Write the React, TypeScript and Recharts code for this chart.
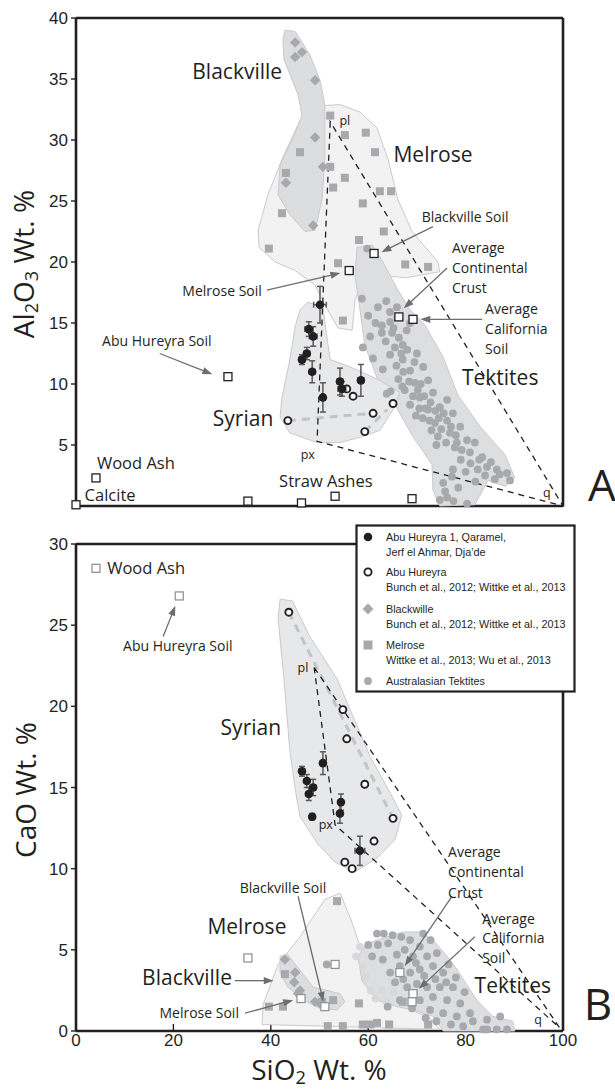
import React from 'react';
import { ScatterChart, Scatter, XAxis, YAxis } from 'recharts';

type Pt = [number, number];
type Note = { x: number; y: number; text: string };

// ---------- panel A : Al2O3 vs SiO2 ----------
const A_MELROSE_FIELD: Pt[] = [
  [50.1, 32.8], [54.2, 32.9], [58.3, 32.3], [61.8, 31.0], [64.1, 28.4], [66.1, 25.1], [69.0, 22.5],
  [74.3, 20.0], [74.7, 19.2], [67.6, 18.7], [63.4, 18.9], [58.7, 18.4], [57.3, 16.9], [56.7, 14.4],
  [53.8, 14.6], [51.1, 16.5], [49.1, 18.1], [45.0, 19.3], [40.9, 20.0], [37.6, 21.2], [37.4, 22.6],
  [39.4, 25.5], [42.5, 28.6], [46.0, 31.6], [48.5, 32.6],
];
const A_BLACKVILLE_FIELD: Pt[] = [
  [42.9, 39.0], [45.0, 38.9], [48.0, 37.0], [50.1, 34.9], [51.1, 32.9], [51.1, 28.4], [50.5, 25.1],
  [49.1, 22.6], [47.0, 22.5], [43.9, 23.9], [41.5, 25.5], [41.9, 28.0], [44.4, 30.0], [46.4, 32.0],
  [45.6, 33.7], [42.7, 36.6], [42.5, 38.2],
];
const A_SYRIAN_FIELD: Pt[] = [
  [47.6, 16.7], [50.7, 16.3], [51.5, 13.9], [52.2, 12.0], [56.3, 11.4], [62.4, 10.3], [66.5, 9.3],
  [65.1, 7.9], [62.4, 6.2], [58.9, 5.7], [54.2, 5.2], [49.5, 5.2], [43.9, 6.0], [41.9, 7.3],
  [42.3, 8.9], [43.9, 12.0], [45.0, 14.7], [46.0, 16.1],
];
const A_TEKTITE_FIELD: Pt[] = [
  [57.7, 21.2], [60.8, 21.4], [63.0, 20.0], [66.1, 17.7], [68.6, 16.1], [71.7, 14.8], [75.4, 12.2],
  [78.4, 9.1], [83.0, 6.5], [88.1, 4.2], [90.1, 2.3], [88.1, 1.6], [84.6, 2.1], [81.9, 0.1],
  [74.7, 0], [73.3, 1.3], [73.1, 3.4], [69.0, 5.8], [65.5, 8.3], [62.0, 10.3], [59.3, 13.2],
  [58.3, 16.1], [57.3, 18.9],
];
const A_TRIANGLE: Pt[] = [[52.2, 31.5], [49.5, 5.3], [100, 0]];
const A_TIE_1: Pt[] = [[43.5, 7.0], [61.0, 7.6]];
const A_TIE_2: Pt[] = [[59.3, 6.1], [63.9, 7.9]];

const A_TEKTITES: Pt[] = [
  [58.7, 17.0], [63.7, 16.8], [65.9, 16.3], [64.5, 15.9], [62.8, 14.8], [64.5, 15.1], [60.4, 13.9],
  [62.8, 14.2], [64.9, 14.2], [58.9, 13.0], [61.0, 12.1], [64.5, 12.4], [67.1, 13.2], [67.9, 14.4],
  [68.6, 15.0], [67.1, 12.0], [70.0, 12.5], [68.6, 11.1], [71.3, 11.4], [69.6, 10.1], [72.3, 10.3],
  [70.6, 8.9], [73.3, 9.3], [64.6, 9.4], [63.8, 9.2], [72.3, 7.9], [74.7, 8.1], [76.2, 8.7],
  [73.7, 6.8], [76.2, 7.0], [77.4, 7.6], [74.3, 5.7], [76.8, 6.0], [78.9, 6.5], [78.2, 5.2],
  [80.3, 5.4], [81.9, 5.2], [80.9, 4.4], [83.4, 4.0], [84.4, 3.2], [86.4, 3.0], [88.5, 2.7],
  [89.1, 2.1], [77.4, 3.0], [75.4, 1.9], [76.2, 0.7], [80.3, 0.2], [74.7, 0.5], [77.2, 2.4],
  [66.0, 15.5], [65.2, 14.6], [66.3, 13.8], [63.6, 13.5], [65.5, 13.0], [66.8, 12.5], [68.0, 12.8],
  [63.0, 11.2], [65.8, 11.5], [67.2, 11.0], [66.2, 10.4], [68.4, 10.2], [70.8, 10.0], [67.5, 9.5],
  [69.2, 9.0], [71.5, 9.0], [68.6, 8.3], [70.5, 8.0], [72.8, 8.5], [71.2, 7.2], [72.6, 7.0],
  [74.5, 7.2], [73.0, 6.2], [75.0, 6.3], [77.0, 6.5], [76.0, 5.2], [77.8, 4.8], [79.2, 4.6],
  [79.0, 3.8], [81.0, 3.5], [82.5, 3.0], [80.0, 2.8], [84.0, 2.5], [86.0, 2.2], [82.0, 2.0],
  [78.5, 1.5], [75.8, 1.2], [77.5, 0.4], [61.5, 15.0], [60.0, 15.6], [62.0, 16.3], [59.8, 21.1],
  [69.5, 11.8], [70.2, 9.5], [73.8, 7.8], [75.5, 7.6], [74.0, 5.0], [78.0, 5.8], [82.8, 3.8],
  [85.2, 3.6], [87.0, 2.6], [67.0, 9.8], [71.8, 8.0], [69.8, 7.4],
];
const A_MELROSE: Pt[] = [
  [46.0, 29.0], [43.1, 27.3], [42.3, 24.0], [39.6, 21.1], [52.2, 32.0], [55.2, 30.4], [59.5, 30.6],
  [61.4, 29.0], [52.2, 27.8], [55.2, 26.9], [52.8, 26.1], [62.4, 25.8], [64.7, 25.8], [58.9, 24.8],
  [63.2, 22.5], [58.1, 21.8], [53.8, 19.9], [67.6, 19.8], [72.3, 19.6], [54.8, 15.2],
];
const A_BLACKVILLE: Pt[] = [
  [45.0, 38.0], [46.4, 37.2], [45.0, 36.8], [49.1, 34.9], [49.1, 30.2], [50.7, 27.8], [48.7, 23.0], [43.1, 26.5],
];
const A_ABU_HUREYRA: Pt[] = [[43.5, 7.0], [61.0, 7.6], [59.3, 6.1], [65.1, 8.4], [55.6, 9.6], [56.9, 9.0]];
// x, y, x error, y error
const A_SITES: [number, number, number, number][] = [
  [50.1, 16.5, 1.3, 1.5], [47.8, 14.5, 0.8, 0.6], [48.7, 13.9, 0.8, 0.8], [47.4, 12.5, 0.6, 0.5],
  [46.4, 12.0, 0.6, 0.4], [48.5, 11.0, 0.6, 0.9], [50.7, 8.9, 0.5, 1.2], [54.2, 10.2, 0.6, 1.1],
  [54.6, 9.6, 0.8, 0.6], [58.5, 10.3, 0.6, 1.3],
];
const A_REFERENCE: Pt[] = [
  [0, 0.1], [4.1, 2.3], [31.2, 10.6], [35.3, 0.4], [46.3, 0.25], [53.2, 0.8], [69.0, 0.6],
  [56.1, 19.3], [61.2, 20.7], [66.3, 15.5], [69.2, 15.3],
];
const A_ARROWS: [Pt, Pt][] = [
  [[39.2, 17.7], [54.3, 19.1]],
  [[73.3, 22.9], [62.7, 20.8]],
  [[76.2, 19.5], [67.3, 16.2]],
  [[83.4, 15.3], [70.7, 15.3]],
  [[17.2, 12.5], [28.0, 10.8]],
];
const A_FIELD_NAMES: Note[] = [
  { x: 33.1, y: 35.6, text: 'Blackville' },
  { x: 73.3, y: 28.8, text: 'Melrose' },
  { x: 34.3, y: 7.2, text: 'Syrian' },
  { x: 87.1, y: 10.5, text: 'Tektites' },
];
const A_MATERIALS: Note[] = [
  { x: 12.3, y: 3.5, text: 'Wood Ash' },
  { x: 7.0, y: 0.9, text: 'Calcite' },
  { x: 51.3, y: 2.0, text: 'Straw Ashes' },
];
const A_NOTES: Note[] = [
  { x: 30.0, y: 17.6, text: 'Melrose Soil' },
  { x: 16.6, y: 13.5, text: 'Abu Hureyra Soil' },
  { x: 79.9, y: 23.7, text: 'Blackville Soil' },
];
const A_NOTES_LEFT: Note[] = [
  { x: 77.2, y: 21.1, text: 'Average' },
  { x: 77.2, y: 19.5, text: 'Continental' },
  { x: 77.2, y: 17.9, text: 'Crust' },
  { x: 84.0, y: 16.1, text: 'Average' },
  { x: 84.0, y: 14.5, text: 'California' },
  { x: 84.0, y: 12.9, text: 'Soil' },
];
const A_VERTICES: Note[] = [
  { x: 55.2, y: 31.6, text: 'pl' },
  { x: 47.6, y: 4.2, text: 'px' },
  { x: 96.7, y: 1.1, text: 'q' },
];
const A_Y_TICKS = [5, 10, 15, 20, 25, 30, 35, 40];
const A_RIGHT_TICKS = [5, 10, 15, 20, 25, 30, 35];

// ---------- panel B : CaO vs SiO2 ----------
const B_MELROSE_FIELD: Pt[] = [
  [38.2, 0.4], [38.4, 1.6], [41.5, 4.1], [46.0, 5.8], [51.1, 8.1], [54.2, 8.5], [56.3, 7.0],
  [58.9, 4.7], [62.4, 3.1], [66.5, 1.6], [72.7, 0.8], [74.7, 0.1],
];
const B_BLACKVILLE_FIELD: Pt[] = [
  [41.9, 4.6], [43.5, 4.7], [48.7, 2.7], [54.2, 2.3], [55.2, 1.8], [53.6, 1.3], [50.1, 1.4],
  [47.4, 1.8], [43.5, 2.7], [41.9, 3.6],
];
const B_SYRIAN_FIELD: Pt[] = [
  [41.9, 26.6], [44.4, 26.5], [48.0, 24.3], [53.6, 21.7], [56.7, 19.5], [60.4, 16.9], [64.1, 14.9],
  [66.9, 13.3], [65.5, 11.8], [62.0, 10.7], [57.3, 9.8], [53.2, 10.4], [49.7, 11.5], [46.0, 13.2],
  [45.0, 14.9], [43.9, 17.3], [42.7, 21.7], [41.5, 25.4],
];
const B_TEKTITE_FIELD: Pt[] = [
  [57.9, 4.6], [59.8, 5.4], [63.9, 5.8], [67.1, 6.1], [70.6, 6.1], [73.3, 5.6], [76.2, 4.6],
  [78.2, 3.8], [82.3, 1.9], [85.6, 0.9], [89.7, 0.6], [90.1, 0], [75.4, 0], [73.3, 0.9],
  [69.2, 1.3], [65.9, 1.5], [61.8, 1.9], [58.7, 3.1],
];
const B_TRIANGLE: Pt[] = [[48.9, 22.4], [53.2, 12.7], [99.3, 0.2]];
const B_TIE: Pt[] = [[43.7, 25.8], [65.1, 13.1]];

const B_TEKTITES: Pt[] = [
  [60.0, 5.3], [62.0, 5.3], [64.1, 5.4], [65.9, 4.7], [60.8, 4.6], [63.0, 4.4], [68.6, 5.6],
  [70.6, 5.2], [72.1, 4.6], [74.1, 4.8], [69.2, 4.6], [66.5, 4.0], [68.6, 3.6], [70.6, 3.8],
  [73.3, 4.0], [75.4, 3.6], [64.5, 3.6], [65.5, 3.0], [68.0, 2.7], [72.1, 2.7], [74.7, 2.7],
  [77.4, 2.7], [73.3, 2.1], [76.2, 1.9], [78.9, 1.7], [70.6, 1.9], [66.5, 1.9], [72.7, 1.3],
  [75.4, 1.1], [78.2, 0.9], [80.9, 1.1], [81.5, 0.6], [84.4, 0.1], [86.4, 0.1], [88.5, 0.1],
  [83.6, 0.1], [87.1, 0.9], [84.4, 0.7], [71.3, 6.0], [61.8, 6.0], [67.5, 5.0], [69.8, 4.2],
  [71.5, 3.4], [73.8, 3.2], [76.0, 3.0], [70.0, 2.9], [69.0, 1.4], [71.8, 0.8], [74.0, 0.6],
  [77.0, 0.4], [79.5, 0.3], [76.5, 4.1], [78.0, 3.3], [79.8, 2.4], [72.8, 5.6], [66.8, 5.8],
  [65.0, 5.9], [63.2, 6.0], [67.2, 3.2], [64.0, 1.5], [51.5, 4.1],
];
const B_TEKTITES_FAINT: Pt[] = [
  [58.3, 5.2], [58.9, 4.0], [59.5, 3.4], [60.5, 2.5], [61.5, 2.0], [62.8, 2.5], [63.8, 1.8], [65.2, 2.4], [57.5, 4.6],
];
const B_MELROSE: Pt[] = [
  [53.6, 8.0], [42.9, 3.5], [39.6, 1.5], [42.5, 1.5], [52.8, 1.9], [58.1, 1.7], [51.7, 0.3],
  [54.8, 0.3], [58.9, 0.4], [60.4, 0.4], [61.8, 0.5], [64.3, 0.4], [72.3, 0.4], [67.1, 1.8], [50.5, 1.8],
];
const B_BLACKVILLE: Pt[] = [
  [42.9, 4.4], [45.0, 3.6], [44.8, 3.0], [46.0, 2.5], [49.1, 1.8], [50.1, 1.7], [45.6, 2.3],
];
const B_ABU_HUREYRA: Pt[] = [
  [43.7, 25.8], [54.8, 19.8], [55.6, 18.0], [59.3, 15.2], [65.1, 13.1], [61.2, 11.7], [55.2, 10.4], [56.7, 10.0],
];
const B_SITES: [number, number, number, number][] = [
  [50.7, 16.5, 0.5, 0.7], [46.4, 16.0, 0.5, 0.3], [47.4, 15.4, 0.5, 0.4], [48.7, 15.0, 0.6, 0.5],
  [47.8, 14.6, 0.5, 0.4], [48.5, 13.2, 0.3, 0.2], [54.4, 14.1, 0.4, 0.5], [54.2, 13.4, 0.5, 0.6],
  [58.3, 11.1, 1.0, 0.9],
];
const B_REFERENCE: Pt[] = [
  [4.1, 28.5], [21.2, 26.8], [35.3, 4.5], [46.2, 2.0], [51.1, 1.5], [53.2, 4.1], [66.5, 3.6], [69.2, 2.3], [69.0, 1.8],
];
const B_ARROWS: [Pt, Pt][] = [
  [[17.9, 24.3], [20.4, 26.2]],
  [[32.6, 3.1], [40.6, 3.1]],
  [[34.7, 1.1], [44.6, 1.9]],
  [[45.6, 8.3], [50.8, 1.8]],
  [[77.2, 8.3], [67.5, 4.0]],
  [[81.9, 5.8], [70.4, 2.6]],
];
const B_FIELD_NAMES: Note[] = [
  { x: 35.9, y: 18.7, text: 'Syrian' },
  { x: 35.1, y: 6.4, text: 'Melrose' },
  { x: 22.8, y: 3.3, text: 'Blackville' },
  { x: 89.7, y: 2.8, text: 'Tektites' },
];
const B_MATERIALS: Note[] = [{ x: 14.4, y: 28.5, text: 'Wood Ash' }];
const B_NOTES: Note[] = [
  { x: 20.9, y: 23.7, text: 'Abu Hureyra Soil' },
  { x: 42.5, y: 8.8, text: 'Blackville Soil' },
  { x: 25.3, y: 1.1, text: 'Melrose Soil' },
];
const B_NOTES_LEFT: Note[] = [
  { x: 76.4, y: 11.0, text: 'Average' },
  { x: 76.4, y: 9.8, text: 'Continental' },
  { x: 76.4, y: 8.5, text: 'Crust' },
  { x: 83.4, y: 6.9, text: 'Average' },
  { x: 83.4, y: 5.7, text: 'California' },
  { x: 83.4, y: 4.5, text: 'Soil' },
];
const B_VERTICES: Note[] = [
  { x: 46.6, y: 22.4, text: 'pl' },
  { x: 51.3, y: 12.7, text: 'px' },
  { x: 94.9, y: 0.7, text: 'q' },
];
const B_Y_TICKS = [0, 5, 10, 15, 20, 25, 30];
const B_RIGHT_TICKS = [5, 10, 15, 20, 25];
const X_TICKS = [0, 20, 40, 60, 80, 100];
const X_INNER_TICKS = [20, 40, 60, 80];

const LEGEND = [
  { kind: 'site', lines: ['Abu Hureyra 1, Qaramel,', 'Jerf el Ahmar, Dja\u2019de'] },
  { kind: 'abu', lines: ['Abu Hureyra', 'Bunch et al., 2012; Wittke et al., 2013'] },
  { kind: 'blackville', lines: ['Blackwille', 'Bunch et al., 2012; Wittke et al., 2013'] },
  { kind: 'melrose', lines: ['Melrose', 'Wittke et al., 2013; Wu et al., 2013'] },
  { kind: 'tektite', lines: ['Australasian Tektites'] },
];

// ---------- styles ----------
const INK = '#231f20';
const GREY = '#a7a9ac';
const FAINT = '#d8d9da';
const EDGE = '#c9cacc';
const ARROW = '#6d6e71';
const ERR = '#58595b';
const REF_GREY = '#939598';
const F_MELROSE = '#f2f2f3';
const F_BLACKVILLE = '#dcddde';
const F_SYRIAN = '#e7e8e9';
const F_TEKTITE = '#dddedf';
const SANS = '"Liberation Sans", Arial, sans-serif';
const LABEL = '"Open Sans", "Noto Sans", sans-serif';

const xy = (a: Pt[]) => a.map(([x, y]) => ({ x, y }));
// each site gives one vertical and one horizontal error segment
const errorSegments = (a: [number, number, number, number][]) =>
  a.flatMap(([x, y, ex, ey]) => [
    [[x, y - ey], [x, y + ey]] as Pt[],
    [[x - ex, y], [x + ex, y]] as Pt[],
  ]);

const none = () => <g />;
const polyStr = (pts: any[]) => pts.map((q) => `${q.x},${q.y}`).join(' ');
const field = (fill: string) => (p: any) => (
  <polygon points={polyStr(p.points)} fill={fill} stroke={EDGE} strokeWidth={1} />
);
const dashed = (stroke: string, width: number, dash: string, closed: boolean) => (p: any) =>
  closed ? (
    <polygon points={polyStr(p.points)} fill="none" stroke={stroke} strokeWidth={width} strokeDasharray={dash} />
  ) : (
    <polyline points={polyStr(p.points)} fill="none" stroke={stroke} strokeWidth={width} strokeDasharray={dash} />
  );
const arrow = (p: any) => {
  const [a, b] = p.points;
  const dx = b.x - a.x;
  const dy = b.y - a.y;
  const len = Math.hypot(dx, dy) || 1;
  const ux = dx / len;
  const uy = dy / len;
  const h = 10;
  const w = 3.6;
  const bx = b.x - ux * h;
  const by = b.y - uy * h;
  return (
    <g>
      <line x1={a.x} y1={a.y} x2={bx + ux * 2} y2={by + uy * 2} stroke={ARROW} strokeWidth={1.3} />
      <polygon points={`${b.x},${b.y} ${bx - uy * w},${by + ux * w} ${bx + uy * w},${by - ux * w}`} fill={ARROW} />
    </g>
  );
};
const errorBar = (p: any) => {
  const [a, b] = p.points;
  const vertical = Math.abs(a.x - b.x) < Math.abs(a.y - b.y);
  const c = 3;
  return (
    <g stroke={ERR} strokeWidth={1.5} fill="none">
      <line x1={a.x} y1={a.y} x2={b.x} y2={b.y} />
      {vertical ? (
        <>
          <line x1={a.x - c} y1={a.y} x2={a.x + c} y2={a.y} />
          <line x1={b.x - c} y1={b.y} x2={b.x + c} y2={b.y} />
        </>
      ) : (
        <>
          <line x1={a.x} y1={a.y - c} x2={a.x} y2={a.y + c} />
          <line x1={b.x} y1={b.y - c} x2={b.x} y2={b.y + c} />
        </>
      )}
    </g>
  );
};

const dot = (r: number, fill: string) => (p: any) => <circle cx={p.cx} cy={p.cy} r={r} fill={fill} />;
const ring = (p: any) => <circle cx={p.cx} cy={p.cy} r={3.5} fill="#fff" stroke={INK} strokeWidth={1.9} />;
const square = (s: number, fill: string) => (p: any) => (
  <rect x={p.cx - s / 2} y={p.cy - s / 2} width={s} height={s} fill={fill} />
);
const openSquare = (stroke: string) => (p: any) => (
  <rect x={p.cx - 4} y={p.cy - 4} width={8} height={8} fill="#fff" stroke={stroke} strokeWidth={1.3} />
);
const diamond = (r: number) => (p: any) => (
  <polygon points={`${p.cx},${p.cy - r} ${p.cx + r},${p.cy} ${p.cx},${p.cy + r} ${p.cx - r},${p.cy}`} fill={GREY} />
);
const label = (size: number, anchor: 'start' | 'middle', family = LABEL) => (p: any) => (
  <text x={p.cx} y={p.cy} dy="0.35em" fontSize={size} textAnchor={anchor} fill={INK} fontFamily={family}>
    {p.payload.text}
  </text>
);

type Panel = {
  fields: { data: Pt[]; fill: string }[];
  triangle: Pt[];
  ties: Pt[][];
  tektites: Pt[];
  faint?: Pt[];
  melrose: Pt[];
  blackville: Pt[];
  abu: Pt[];
  sites: [number, number, number, number][];
  reference: Pt[];
  refStroke: string;
  arrows: [Pt, Pt][];
  names: Note[];
  materials: Note[];
  notes: Note[];
  notesLeft: Note[];
  vertices: Note[];
  yMax: number;
  yTicks: number[];
  rightTicks: number[];
  showX: boolean;
  height: number;
  margin: { top: number; right: number; bottom: number; left: number };
};

function PanelChart(c: Panel) {
  const axisLine = { stroke: INK, strokeWidth: 2.6 };
  const tickLine = { stroke: INK, strokeWidth: 1.4 };
  return (
    <ScatterChart width={615} height={c.height} margin={c.margin}>
      <XAxis
        type="number"
        dataKey="x"
        domain={[0, 100]}
        ticks={c.showX ? X_TICKS : X_INNER_TICKS}
        height={c.showX ? 30 : 1}
        tick={c.showX ? { fontSize: 17, fill: INK, fontFamily: SANS } : false}
        tickSize={-7}
        tickMargin={10}
        axisLine={axisLine}
        tickLine={tickLine}
        interval={0}
      />
      <XAxis xAxisId="t" orientation="top" type="number" dataKey="x" domain={[0, 100]} ticks={X_INNER_TICKS}
        height={1} tick={false} tickSize={-7} axisLine={axisLine} tickLine={tickLine} interval={0} />
      <YAxis
        type="number"
        dataKey="y"
        domain={[0, c.yMax]}
        ticks={c.yTicks}
        width={50}
        tick={{ fontSize: 17, fill: INK, fontFamily: SANS }}
        tickSize={5}
        tickMargin={3}
        axisLine={axisLine}
        tickLine={tickLine}
        interval={0}
      />
      <YAxis yAxisId="r" orientation="right" type="number" dataKey="y" domain={[0, c.yMax]} ticks={c.rightTicks}
        width={1} tick={false} tickSize={-7} axisLine={axisLine} tickLine={tickLine} interval={0} />

      {/* keeps the frame axes (top, right) bound to a series */}
      <Scatter xAxisId="t" yAxisId="r" data={xy(c.triangle)} shape={none} isAnimationActive={false} legendType="none" />

      {c.fields.map((f, i) => (
        <Scatter key={`f${i}`} data={xy(f.data)} shape={none} line={field(f.fill)} isAnimationActive={false} />
      ))}
      {c.ties.map((t, i) => (
        <Scatter key={`t${i}`} data={xy(t)} shape={none} line={dashed('#c2c3c5', 3, '8 6', false)} isAnimationActive={false} />
      ))}
      <Scatter data={xy(c.triangle)} shape={none} line={dashed(INK, 1.3, '6 5', true)} isAnimationActive={false} />
      {c.faint && <Scatter data={xy(c.faint)} shape={dot(3.9, FAINT)} isAnimationActive={false} />}
      <Scatter data={xy(c.tektites)} shape={dot(3.9, GREY)} isAnimationActive={false} />
      <Scatter data={xy(c.melrose)} shape={square(8, GREY)} isAnimationActive={false} />
      <Scatter data={xy(c.blackville)} shape={diamond(5.2)} isAnimationActive={false} />
      <Scatter data={xy(c.abu)} shape={ring} isAnimationActive={false} />
      {errorSegments(c.sites).map((s, i) => (
        <Scatter key={`e${i}`} data={xy(s)} shape={none} line={errorBar} isAnimationActive={false} />
      ))}
      <Scatter data={xy(c.sites.map(([x, y]) => [x, y] as Pt))} shape={dot(4.3, INK)} isAnimationActive={false} />
      <Scatter data={xy(c.reference)} shape={openSquare(c.refStroke)} isAnimationActive={false} />
      {c.arrows.map((a, i) => (
        <Scatter key={`a${i}`} data={xy(a)} shape={none} line={arrow} isAnimationActive={false} />
      ))}
      <Scatter data={c.names} shape={label(21, 'middle')} isAnimationActive={false} />
      <Scatter data={c.materials} shape={label(16.5, 'middle')} isAnimationActive={false} />
      <Scatter data={c.notes} shape={label(14, 'middle')} isAnimationActive={false} />
      <Scatter data={c.notesLeft} shape={label(14, 'start')} isAnimationActive={false} />
      <Scatter data={c.vertices} shape={label(12.5, 'middle')} isAnimationActive={false} />
    </ScatterChart>
  );
}

function LegendMark({ kind, x, y }: { kind: string; x: number; y: number }) {
  if (kind === 'site') return <circle cx={x} cy={y} r={4.3} fill={INK} />;
  if (kind === 'abu') return <circle cx={x} cy={y} r={3.6} fill="#fff" stroke={INK} strokeWidth={1.9} />;
  if (kind === 'blackville') return <polygon points={`${x},${y - 5.5} ${x + 5.5},${y} ${x},${y + 5.5} ${x - 5.5},${y}`} fill={GREY} />;
  if (kind === 'melrose') return <rect x={x - 4.5} y={y - 4.5} width={9} height={9} fill={GREY} />;
  return <circle cx={x} cy={y} r={3.9} fill={GREY} />;
}

function LegendBox() {
  const rows = [13, 48, 85, 121, 157];
  return (
    <svg width={222} height={170} style={{ position: 'absolute', left: 355, top: 524 }}>
      <rect x={1.5} y={1.5} width={218} height={166} fill="#fff" stroke={INK} strokeWidth={2.2} />
      {LEGEND.map((e, i) => (
        <g key={e.kind}>
          <LegendMark kind={e.kind} x={13} y={rows[i]} />
          {e.lines.map((t, j) => (
            <text key={j} x={31} y={rows[i] + j * 15} dy="0.35em" fontSize={10.8} fill={INK} fontFamily={SANS}>
              {t}
            </text>
          ))}
        </g>
      ))}
    </svg>
  );
}

const titleStyle: React.CSSProperties = {
  position: 'absolute',
  fontFamily: LABEL,
  fontSize: 28,
  color: INK,
  whiteSpace: 'nowrap',
  lineHeight: 1,
};
const sub: React.CSSProperties = { fontSize: '0.65em', verticalAlign: '-0.22em' };

export default function App() {
  return (
    <div style={{ position: 'absolute', left: 0, top: 0, width: 615, height: 1089, background: '#fff', overflow: 'hidden' }}>
      <div style={{ position: 'absolute', left: 0, top: 0 }}>
        <PanelChart
          fields={[
            { data: A_MELROSE_FIELD, fill: F_MELROSE },
            { data: A_BLACKVILLE_FIELD, fill: F_BLACKVILLE },
            { data: A_TEKTITE_FIELD, fill: F_TEKTITE },
            { data: A_SYRIAN_FIELD, fill: F_SYRIAN },
          ]}
          triangle={A_TRIANGLE}
          ties={[A_TIE_1, A_TIE_2]}
          tektites={A_TEKTITES}
          melrose={A_MELROSE}
          blackville={A_BLACKVILLE}
          abu={A_ABU_HUREYRA}
          sites={A_SITES}
          reference={A_REFERENCE}
          refStroke={INK}
          arrows={A_ARROWS}
          names={A_FIELD_NAMES}
          materials={A_MATERIALS}
          notes={A_NOTES}
          notesLeft={A_NOTES_LEFT}
          vertices={A_VERTICES}
          yMax={40}
          yTicks={A_Y_TICKS}
          rightTicks={A_RIGHT_TICKS}
          showX={false}
          height={530}
          margin={{ top: 17, right: 51, bottom: 23, left: 26 }}
        />
      </div>
      <div style={{ position: 'absolute', left: 0, top: 530 }}>
        <PanelChart
          fields={[
            { data: B_MELROSE_FIELD, fill: F_MELROSE },
            { data: B_BLACKVILLE_FIELD, fill: F_BLACKVILLE },
            { data: B_TEKTITE_FIELD, fill: F_TEKTITE },
            { data: B_SYRIAN_FIELD, fill: F_SYRIAN },
          ]}
          triangle={B_TRIANGLE}
          ties={[B_TIE]}
          tektites={B_TEKTITES}
          faint={B_TEKTITES_FAINT}
          melrose={B_MELROSE}
          blackville={B_BLACKVILLE}
          abu={B_ABU_HUREYRA}
          sites={B_SITES}
          reference={B_REFERENCE}
          refStroke={REF_GREY}
          arrows={B_ARROWS}
          names={B_FIELD_NAMES}
          materials={B_MATERIALS}
          notes={B_NOTES}
          notesLeft={B_NOTES_LEFT}
          vertices={B_VERTICES}
          yMax={30}
          yTicks={B_Y_TICKS}
          rightTicks={B_RIGHT_TICKS}
          showX={true}
          height={559}
          margin={{ top: 13, right: 51, bottom: 28, left: 26 }}
        />
      </div>
      <LegendBox />

      <div style={{ ...titleStyle, left: 25, top: 264, transform: 'translate(-50%, -50%) rotate(-90deg)' }}>
        Al<span style={sub}>2</span>O<span style={sub}>3</span> Wt. %
      </div>
      <div style={{ ...titleStyle, left: 25, top: 790, transform: 'translate(-50%, -50%) rotate(-90deg)' }}>
        CaO Wt. %
      </div>
      <div style={{ ...titleStyle, left: 319, top: 1071, transform: 'translate(-50%, -50%)' }}>
        SiO<span style={sub}>2</span> Wt. %
      </div>
      <div style={{ ...titleStyle, fontSize: 44, left: 602, top: 484, transform: 'translate(-50%, -50%)' }}>A</div>
      <div style={{ ...titleStyle, fontSize: 44, left: 598, top: 1003, transform: 'translate(-50%, -50%)' }}>B</div>
    </div>
  );
}
